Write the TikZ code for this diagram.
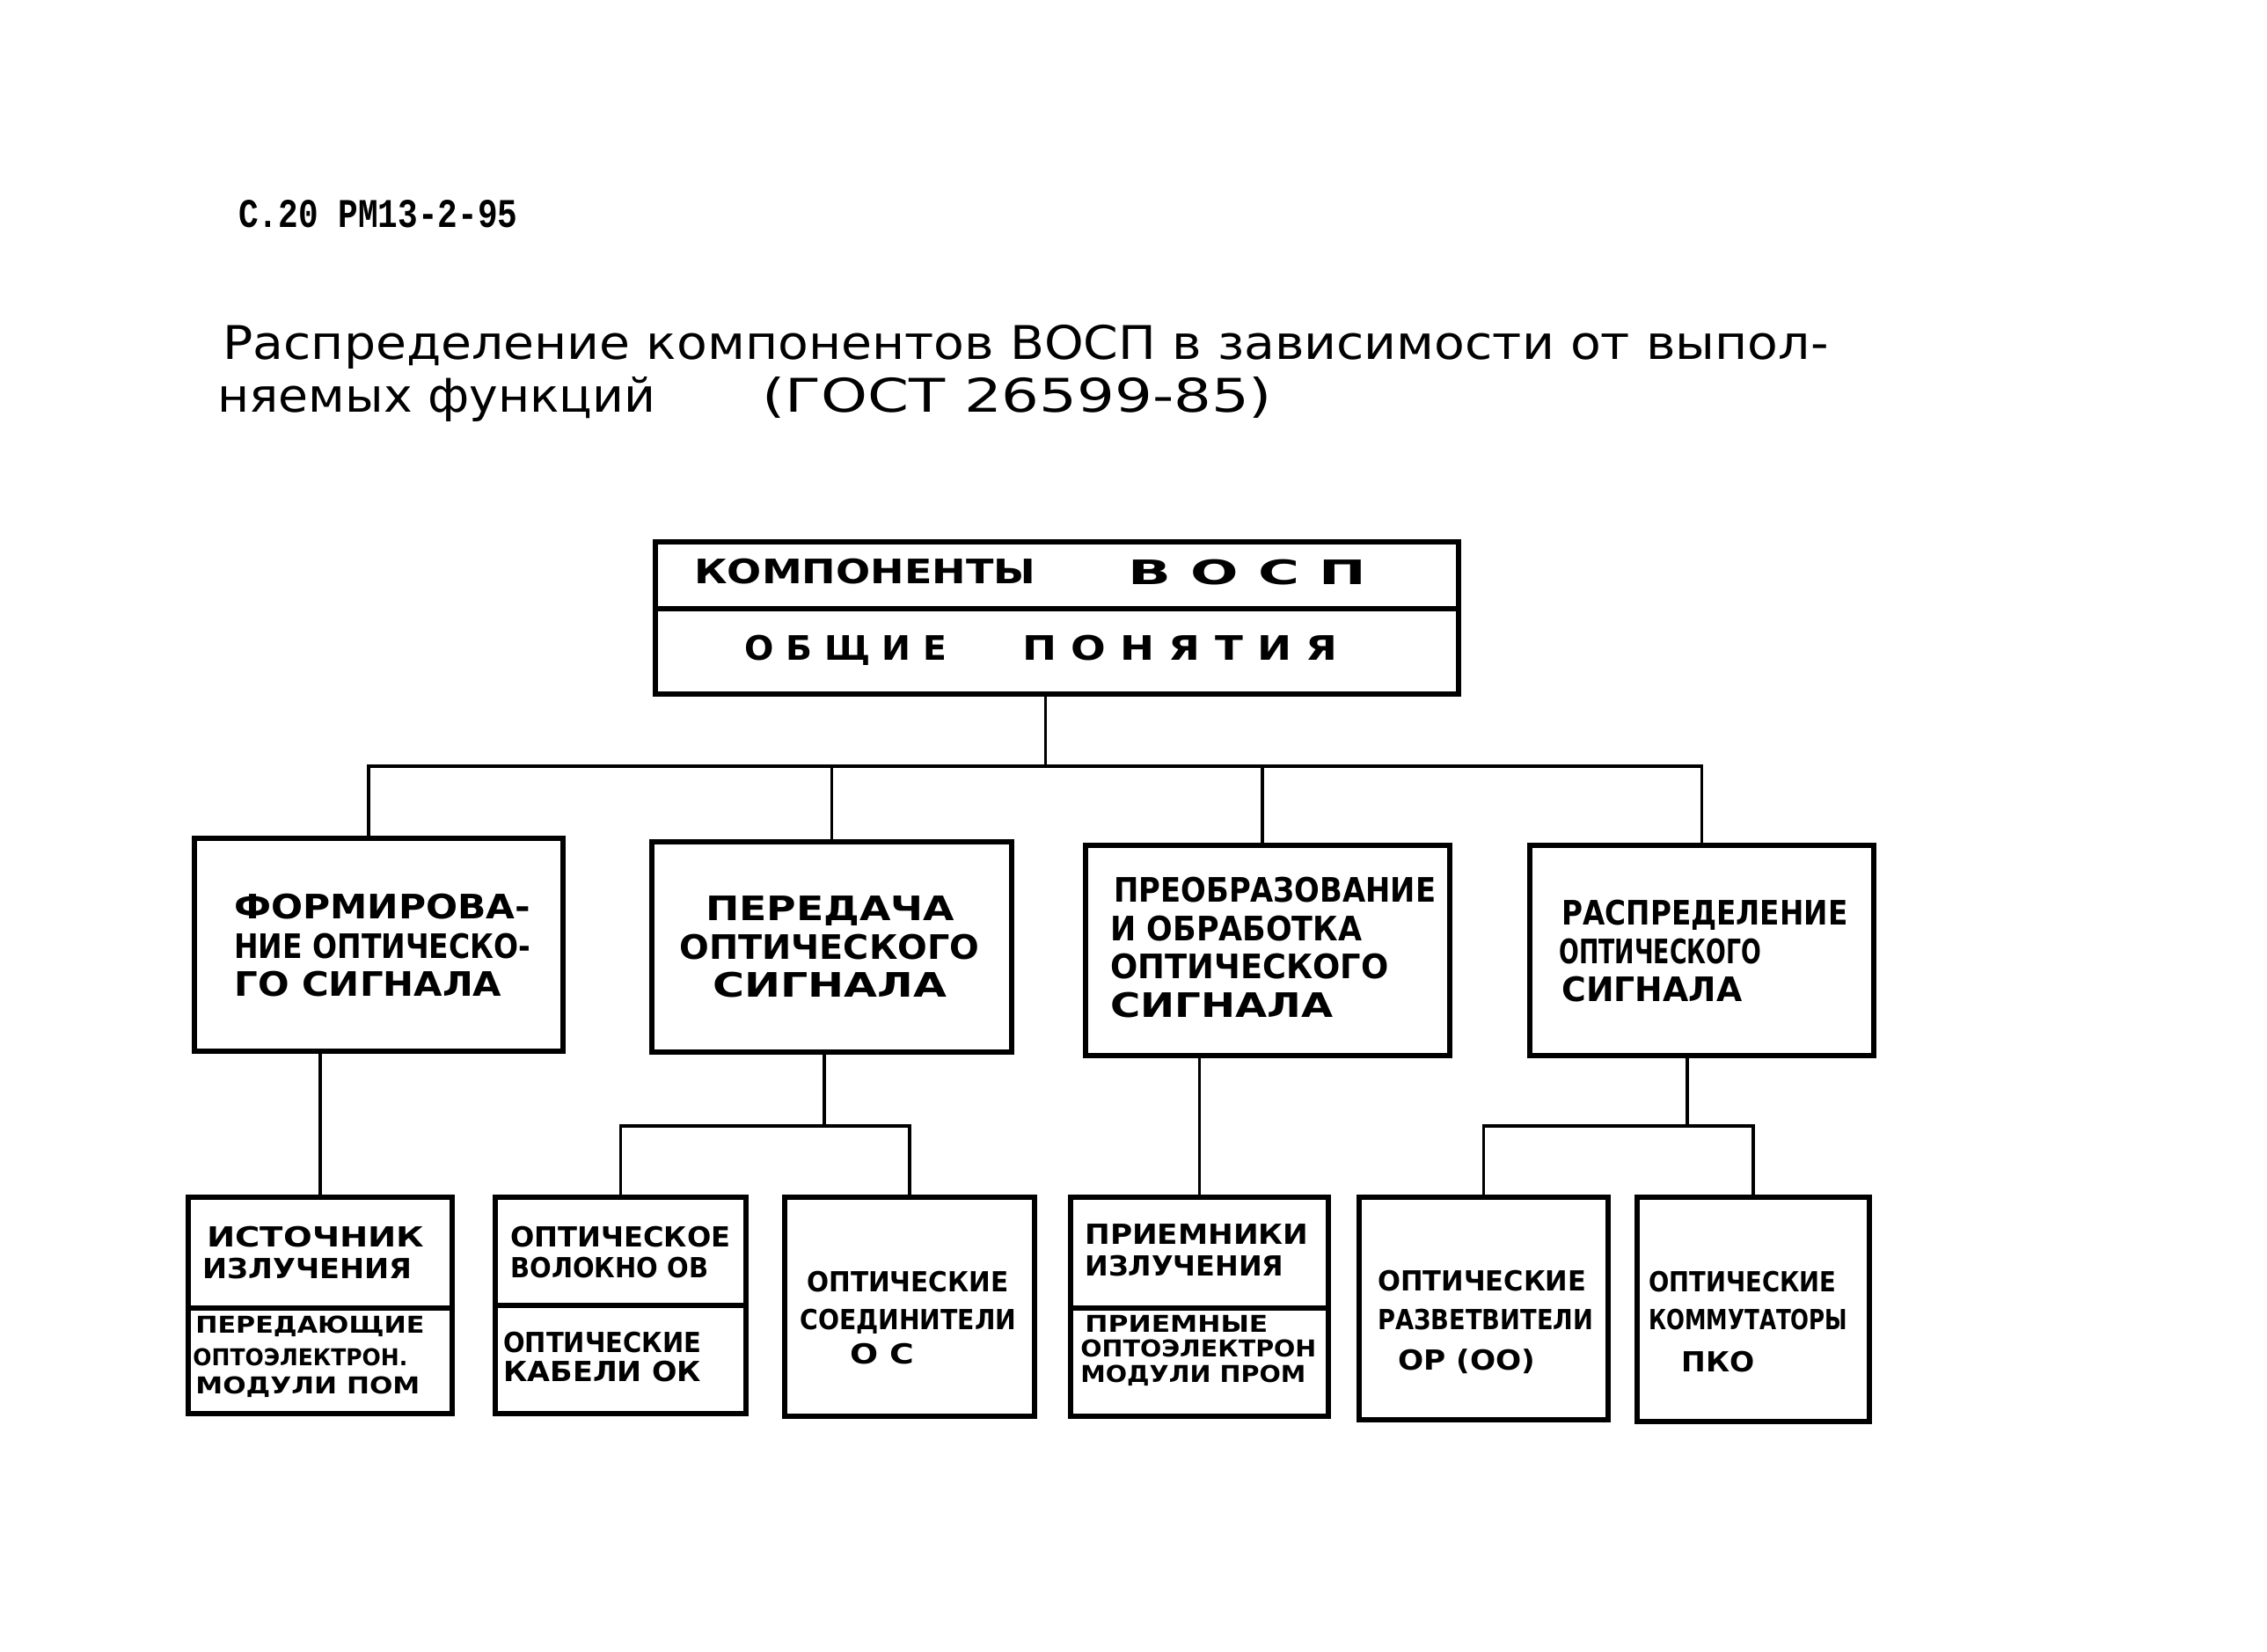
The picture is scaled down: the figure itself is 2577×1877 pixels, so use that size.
\documentclass[tikz,border=0pt]{standalone}
\usepackage{fontspec}
\usepackage{graphicx}
\setmainfont{DejaVu Sans}
\newfontfamily\hdrfont{Liberation Mono}
\usetikzlibrary{fit}
\newdimen\pxu \pxu=0.02cm
\newcommand\wfit[2]{\resizebox{#1\pxu}{\height}{#2}}
\newcommand\whfit[3]{\resizebox{#1\pxu}{#2\pxu}{#3}}
\begin{document}
\begin{tikzpicture}[x=0.02cm,y=-0.02cm,
  box/.style={draw, line width=2.9pt, inner sep=0pt},
  divl/.style={line width=2.9pt},
  conn/.style={line width=1.9pt},
  lbl/.style={inner sep=0pt, anchor=base west},
  fTitle/.style={font=\fontsize{30}{30}\selectfont},
  fTop/.style={font=\bfseries\fontsize{21.8}{22}\selectfont},
  fMid/.style={font=\bfseries\fontsize{21.8}{22}\selectfont},
  fLow/.style={font=\bfseries\fontsize{17.9}{18}\selectfont},
  fSmall/.style={font=\bfseries\fontsize{15}{15}\selectfont}]
\fill[white] (0,0) rectangle (2577,1877);
\useasboundingbox (0,0) rectangle (2577,1877);

% header and title
\node[lbl] (hdr) at (271,258) {\hdrfont\bfseries\whfit{317}{31}{С.20 РМ13-2-95}};
\node[lbl,fTitle] (title1) at (253,408) {\wfit{1825}{Распределение компонентов ВОСП в зависимости от выпол-}};
\node[lbl,fTitle] (title2) at (247,468) {\wfit{498}{няемых функций}};
\node[lbl,fTitle] (title3) at (866,468) {\wfit{580}{(ГОСТ 26599-85)}};

% top box
\node[box, fit={(745,616) (1658,789)}] (top) {};
\path (0,692) coordinate (d0);
\draw[divl] (top.west |- d0) -- (top.east |- d0);
\node[lbl,fTop] (tb1) at (789,663) {\wfit{388}{КОМПОНЕНТЫ}};
\node[lbl,fTop] (tb2) at (1282,664) {\wfit{271}{В О С П}};
\node[lbl,fTop] (tb3) at (846,750) {\wfit{230}{О Б Щ И Е}};
\node[lbl,fTop] (tb4) at (1162,750) {\wfit{358}{П О Н Я Т И Я}};

% level 2 boxes
\node[box, fit={(221,953) (640,1195)}] (L1) {};
\node[box, fit={(741,957) (1150,1196)}] (L2) {};
\node[box, fit={(1234,961) (1648,1200)}] (L3) {};
\node[box, fit={(1739,961) (2130,1200)}] (L4) {};

\node[lbl,fMid] (l1a) at (266,1044) {\wfit{337}{ФОРМИРОВА-}};
\node[lbl,fMid] (l1b) at (266,1089) {\wfit{337}{НИЕ ОПТИЧЕСКО-}};
\node[lbl,fMid] (l1c) at (266,1132) {\wfit{304}{ГО СИГНАЛА}};

\node[lbl,fMid] (l2a) at (802,1046) {\wfit{283}{ПЕРЕДАЧА}};
\node[lbl,fMid] (l2b) at (772,1090) {\wfit{341}{ОПТИЧЕСКОГО}};
\node[lbl,fMid] (l2c) at (810,1133) {\wfit{266}{СИГНАЛА}};

\node[lbl,fMid] (l3a) at (1266,1025) {\wfit{366}{ПРЕОБРАЗОВАНИЕ}};
\node[lbl,fMid] (l3b) at (1262,1069) {\wfit{286}{И ОБРАБОТКА}};
\node[lbl,fMid] (l3c) at (1262,1112) {\wfit{316}{ОПТИЧЕСКОГО}};
\node[lbl,fMid] (l3d) at (1262,1156) {\wfit{253}{СИГНАЛА}};

\node[lbl,fMid] (l4a) at (1775,1051) {\wfit{325}{РАСПРЕДЕЛЕНИЕ}};
\node[lbl,fMid] (l4b) at (1772,1095) {\wfit{230}{ОПТИЧЕСКОГО}};
\node[lbl,fMid] (l4c) at (1775,1138) {\wfit{205}{СИГНАЛА}};

% level 3 boxes
\node[box, fit={(214,1361) (514,1607)}] (B1) {};
\node[box, fit={(563,1361) (848,1607)}] (B2a) {};
\node[box, fit={(892,1361) (1176,1610)}] (B2b) {};
\node[box, fit={(1217,1361) (1510,1610)}] (B3) {};
\node[box, fit={(1545,1361) (1828,1614)}] (B4a) {};
\node[box, fit={(1861,1361) (2125,1616)}] (B4b) {};
\path (0,1487) coordinate (d1);
\path (0,1484) coordinate (d2);
\draw[divl] (B1.west |- d1) -- (B1.east |- d1);
\draw[divl] (B2a.west |- d2) -- (B2a.east |- d2);
\draw[divl] (B3.west |- d1) -- (B3.east |- d1);

\node[lbl,fLow] (b1a) at (235,1417) {\wfit{247}{ИСТОЧНИК}};
\node[lbl,fLow] (b1b) at (230,1453) {\wfit{238}{ИЗЛУЧЕНИЯ}};
\node[lbl,fSmall] (b1c) at (222,1515) {\wfit{260}{ПЕРЕДАЮЩИЕ}};
\node[lbl,fSmall] (b1d) at (219,1552) {\wfit{244}{ОПТОЭЛЕКТРОН.}};
\node[lbl,fSmall] (b1e) at (222,1584) {\wfit{255}{МОДУЛИ ПОМ}};

\node[lbl,fLow] (b2a) at (580,1417) {\wfit{250}{ОПТИЧЕСКОЕ}};
\node[lbl,fLow] (b2b) at (580,1452) {\wfit{225}{ВОЛОКНО ОВ}};
\node[lbl,fLow] (b2c) at (572,1537) {\wfit{225}{ОПТИЧЕСКИЕ}};
\node[lbl,fLow] (b2d) at (572,1570) {\wfit{225}{КАБЕЛИ ОК}};

\node[lbl,fLow] (b2e) at (917,1468) {\wfit{229}{ОПТИЧЕСКИЕ}};
\node[lbl,fLow] (b2f) at (909,1511) {\wfit{246}{СОЕДИНИТЕЛИ}};
\node[lbl,fLow] (b2g) at (966,1550) {\wfit{73}{О С}};

\node[lbl,fLow] (b3a) at (1233,1414) {\wfit{254}{ПРИЕМНИКИ}};
\node[lbl,fLow] (b3b) at (1233,1450) {\wfit{226}{ИЗЛУЧЕНИЯ}};
\node[lbl,fSmall] (b3c) at (1233,1514) {\wfit{208}{ПРИЕМНЫЕ}};
\node[lbl,fSmall] (b3d) at (1228,1542) {\wfit{268}{ОПТОЭЛЕКТРОН}};
\node[lbl,fSmall] (b3e) at (1228,1571) {\wfit{256}{МОДУЛИ ПРОМ}};

\node[lbl,fLow] (b4a) at (1566,1467) {\wfit{237}{ОПТИЧЕСКИЕ}};
\node[lbl,fLow] (b4b) at (1566,1511) {\wfit{245}{РАЗВЕТВИТЕЛИ}};
\node[lbl,fLow] (b4c) at (1589,1557) {\wfit{156}{ОР (ОО)}};

\node[lbl,fLow] (b4d) at (1874,1468) {\wfit{213}{ОПТИЧЕСКИЕ}};
\node[lbl,fLow] (b4e) at (1874,1511) {\wfit{226}{КОММУТАТОРЫ}};
\node[lbl,fLow] (b4f) at (1911,1559) {\wfit{83}{ПКО}};

% connectors
\path (0,871) coordinate (bus1);
\path (0,1280) coordinate (bus2);
\draw[conn] ([xshift=-0.26cm]top.south) -- ([xshift=-0.26cm]top.south |- bus1);
\draw[conn] ([xshift=-0.23cm]L1.north) |- (L4.north |- bus1) -- (L4.north);
\draw[conn] (L2.north) -- (L2.north |- bus1);
\draw[conn] ([xshift=-0.12cm]L3.north) -- ([xshift=-0.12cm]L3.north |- bus1);
\draw[conn] (B1.north) -- (B1.north |- L1.south);
\draw[conn] ([xshift=-0.17cm]L2.south) -- ([xshift=-0.17cm]L2.south |- bus2);
\draw[conn] (B2a.north) |- (B2b.north |- bus2) -- (B2b.north);
\draw[conn] (B3.north) -- (B3.north |- L3.south);
\draw[conn] ([xshift=-0.33cm]L4.south) -- ([xshift=-0.33cm]L4.south |- bus2);
\draw[conn] (B4a.north) |- (B4b.north |- bus2) -- (B4b.north);
\end{tikzpicture}
\end{document}
